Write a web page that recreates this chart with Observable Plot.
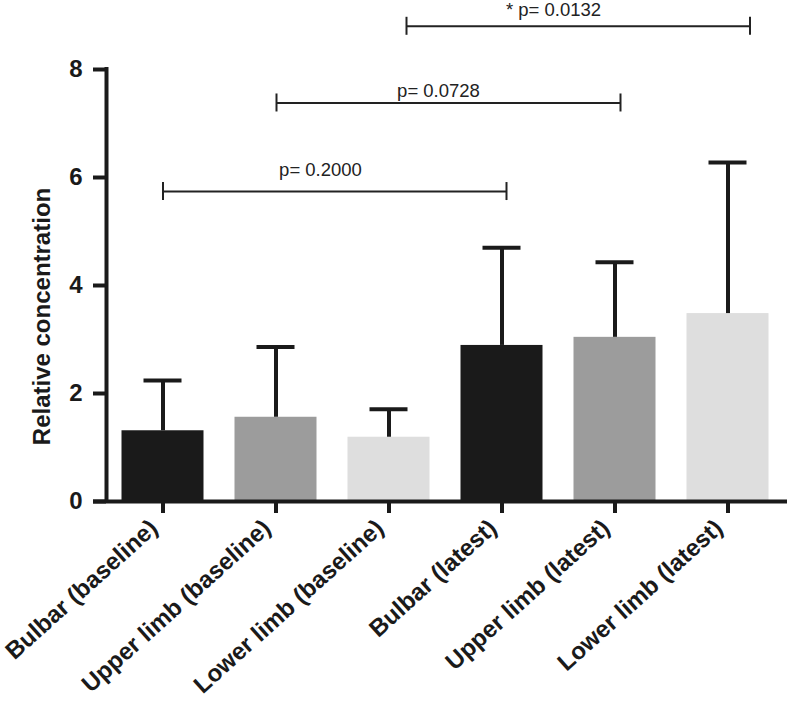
<!DOCTYPE html>
<html>
<head>
<meta charset="utf-8">
<script src="https://cdn.jsdelivr.net/npm/d3@7"></script>
<script src="https://cdn.jsdelivr.net/npm/@observablehq/plot@0.6"></script>
<style>
  html, body { margin: 0; padding: 0; background: #fff; }
  #chart svg { display: block; }
</style>
</head>
<body>
<div id="chart"></div>
<script>
// ---- data ----
const categories = [
  "Bulbar (baseline)",
  "Upper limb (baseline)",
  "Lower limb (baseline)",
  "Bulbar (latest)",
  "Upper limb (latest)",
  "Lower limb (latest)"
];
const means = [1.31, 1.56, 1.19, 2.89, 3.04, 3.48];
const sds = [0.93, 1.30, 0.52, 1.81, 1.39, 2.80];
const regions = ["Bulbar", "Upper limb", "Lower limb", "Bulbar", "Upper limb", "Lower limb"];
const yTicks = [0, 2, 4, 6, 8];
const yLabel = "Relative concentration";

const compFrom = [0, 1, 2];
const compTo = [3, 4, 5];
const compLevel = [5.74, 7.38, 8.80];
const compLabel = ["p= 0.2000", "p= 0.0728", "* p= 0.0132"];

// ---- tables built from the arrays ----
const bars = categories.map((name, i) => ({i, name, mean: means[i], top: means[i] + sds[i], region: regions[i]}));
const comps = compFrom.map((f, k) => ({from: f, to: compTo[k], mid: (f + compTo[k]) / 2, level: compLevel[k], label: compLabel[k]}));

// ---- styling ----
const font = "'Liberation Sans', Arial, Helvetica, sans-serif";
const ink = "#1a1a1a";
const xDomain = [-0.5, categories.length - 0.5];
const yDomain = [0, 8];
// small pixel nudges of the hand-placed significance brackets
const bracketStyle = [
  {l: 0, r: 4.5, tx: -12, ty: -21},
  {l: 0.5, r: 5.5, tx: -7, ty: -12},
  {l: 17.5, r: 22, tx: -5, ty: -16}
];

const bracketMarks = comps.flatMap((c, k) => {
  const s = bracketStyle[k];
  return [
    Plot.ruleY([c], {x1: "from", x2: "to", y: "level", insetLeft: s.l, insetRight: -s.r, stroke: "#222", strokeWidth: 2}),
    Plot.ruleX([c], {x: "from", y1: "level", y2: "level", insetTop: -9, insetBottom: -9, dx: s.l, stroke: "#222", strokeWidth: 2}),
    Plot.ruleX([c], {x: "to", y1: "level", y2: "level", insetTop: -9, insetBottom: -9, dx: s.r, stroke: "#222", strokeWidth: 2}),
    Plot.text([c], {x: "mid", y: "level", text: "label", dx: s.tx, dy: s.ty, fontSize: 18.5, fill: "#222", fontFamily: font})
  ];
});

const chart = Plot.plot({
  width: 791,
  height: 709,
  marginTop: 69,
  marginBottom: 208,
  marginLeft: 106,
  marginRight: 7,
  style: {fontFamily: font, color: ink, background: "#fff", overflow: "visible"},
  x: {type: "linear", domain: xDomain},
  y: {domain: yDomain},
  color: {domain: ["Bulbar", "Upper limb", "Lower limb"], range: ["#1a1a1a", "#9c9c9c", "#dedede"]},
  marks: [
    Plot.rectY(bars, {x1: d => d.i - 0.5, x2: d => d.i + 0.5, y1: 0, y2: "mean", fill: "region", insetLeft: 15.5, insetRight: 15.5}),
    Plot.ruleX(bars, {x: "i", y1: "mean", y2: "top", stroke: ink, strokeWidth: 4}),
    Plot.ruleY(bars, {x1: d => d.i - 0.5, x2: d => d.i + 0.5, y: "top", insetLeft: 37.5, insetRight: 37.5, stroke: ink, strokeWidth: 4}),
    Plot.ruleY([yDomain[0]], {stroke: ink, strokeWidth: 4, insetLeft: -13, insetRight: -3}),
    Plot.ruleX([xDomain[0]], {y1: yDomain[0], y2: yDomain[1], stroke: ink, strokeWidth: 4, strokeLinecap: "square"}),
    Plot.axisY(yTicks, {tickSize: 13, tickPadding: 11, tickFormat: d3.format("d"), fontSize: 24, fontWeight: "bold", strokeWidth: 4, label: null}),
    Plot.axisX(bars.map(d => d.i), {tickFormat: i => categories[i], tickRotate: -42, tickSize: 12, strokeWidth: 4, label: null}),
    Plot.axisX(bars.map(d => d.i), {tickFormat: i => categories[i], tickRotate: -42, tickSize: 0, tickPadding: 23, dx: -9, fontSize: 24, fontWeight: "bold", label: null, stroke: null}),
    Plot.text([yLabel], {frameAnchor: "left", textAnchor: "middle", rotate: -90, dx: -64, dy: 31, fontSize: 24, fontWeight: "bold", fill: ink, fontFamily: font}),
    ...bracketMarks
  ]
});

// hide the label copy of the first x axis (it only supplies the ticks)
chart.querySelectorAll('g[aria-label="x-axis tick label"]').forEach((g, k) => { if (k === 0) g.remove(); });

document.getElementById("chart").appendChild(chart);
</script>
</body>
</html>
